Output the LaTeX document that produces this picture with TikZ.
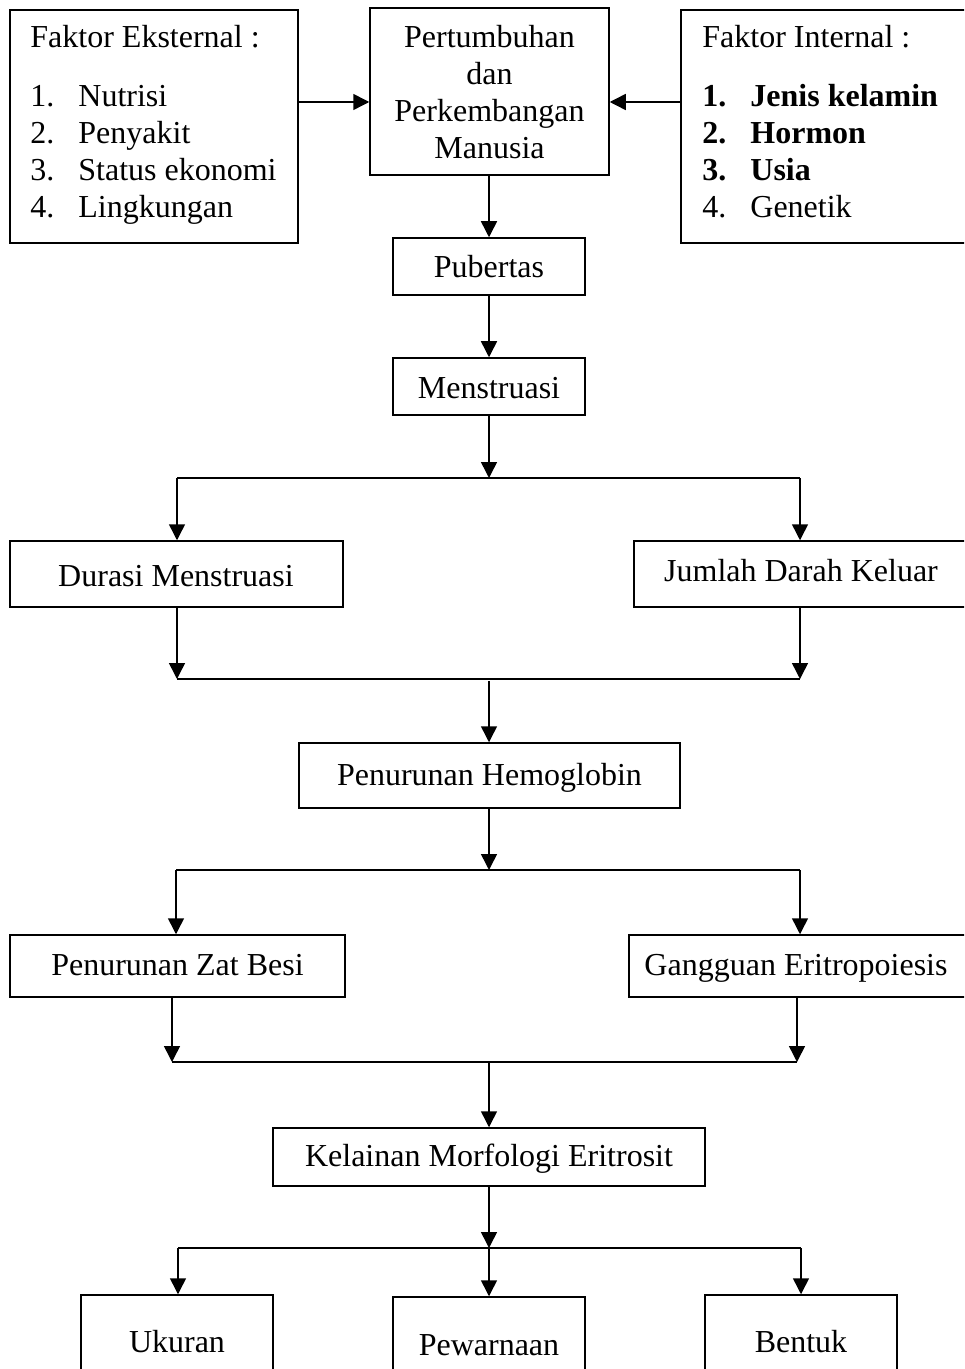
\documentclass[tikz,border=0pt]{standalone}
\usepackage{fontspec}
\setmainfont{Liberation Serif}
\usetikzlibrary{arrows.meta}
\begin{document}
\begin{tikzpicture}[x=0.5pt,y=-0.5pt,
  every node/.style={font=\fontsize{16}{18.5}\selectfont, inner sep=0pt},
  box/.style={draw=black, line width=0.75pt, rectangle},
  txt/.style={anchor=base west},
  ctxt/.style={anchor=base},
  conn/.style={line width=0.75pt},
  arr/.style={line width=0.75pt, -{Triangle[length=8pt,width=8pt]}}]
\useasboundingbox (0,0) rectangle (964,1369);
\clip (0,0) rectangle (964,1369);
\fill[white] (0,0) rectangle (964,1369);

% top row
\node[box, minimum width=144pt, minimum height=116.5pt] (ext) at (154,126.5) {};
\node[txt] (extt) at (30,48) {Faktor Eksternal :};
\node[txt] (ext1) at (30,107) {\makebox[24pt][l]{1.}Nutrisi};
\node[txt] (ext2) at (30,144) {\makebox[24pt][l]{2.}Penyakit};
\node[txt] (ext3) at (30,181) {\makebox[24pt][l]{3.}Status ekonomi};
\node[txt] (ext4) at (30,218) {\makebox[24pt][l]{4.}Lingkungan};

\node[box, minimum width=119.5pt, minimum height=83.5pt] (ctr) at (489.5,91.5) {};
\node[ctxt] (ctr1) at (489.5,48) {Pertumbuhan};
\node[ctxt] (ctr2) at (489.5,85) {dan};
\node[ctxt] (ctr3) at (489.5,122) {Perkembangan};
\node[ctxt] (ctr4) at (489.5,159) {Manusia};

\node[box, minimum width=147pt, minimum height=116.5pt] (int) at (828,126.5) {};
\node[txt] (intt) at (702,48) {Faktor Internal :};
\node[txt] (int1) at (702,107) {\bfseries\makebox[24pt][l]{1.}Jenis kelamin};
\node[txt] (int2) at (702,144) {\bfseries\makebox[24pt][l]{2.}Hormon};
\node[txt] (int3) at (702,181) {\bfseries\makebox[24pt][l]{3.}Usia};
\node[txt] (int4) at (702,218) {\makebox[24pt][l]{4.}Genetik};

% chain boxes
\node[box, minimum width=96pt, minimum height=28.5pt] (pub) at (489,266.5) {};
\node[ctxt] (pubt) at (489,278) {Pubertas};
\node[box, minimum width=96pt, minimum height=28.5pt] (men) at (489,386.5) {};
\node[ctxt] (ment) at (489,398) {Menstruasi};
\node[box, minimum width=166.5pt, minimum height=33pt] (dur) at (176.5,574) {};
\node[ctxt] (durt) at (176,586) {Durasi Menstruasi};
\node[box, minimum width=170.5pt, minimum height=33pt] (jum) at (804.5,574) {};
\node[ctxt] (jumt) at (801,581) {Jumlah Darah Keluar};
\node[box, minimum width=190.5pt, minimum height=32.5pt] (hem) at (489.5,775.5) {};
\node[ctxt] (hemt) at (489.5,785) {Penurunan Hemoglobin};
\node[box, minimum width=167.5pt, minimum height=31pt] (zat) at (177.5,966) {};
\node[ctxt] (zatt) at (177.5,975) {Penurunan Zat Besi};
\node[box, minimum width=173pt, minimum height=31pt] (gan) at (802,966) {};
\node[ctxt] (gant) at (796,975) {Gangguan Eritropoiesis};
\node[box, minimum width=216pt, minimum height=29pt] (kel) at (489,1157) {};
\node[ctxt] (kelt) at (489,1166) {Kelainan Morfologi Eritrosit};
\node[box, minimum width=96pt, minimum height=47.5pt] (uku) at (177,1342.5) {};
\node[ctxt] (ukut) at (177,1352) {Ukuran};
\node[box, minimum width=96pt, minimum height=46.5pt] (pew) at (489,1343.5) {};
\node[ctxt] (pewt) at (489,1355) {Pewarnaan};
\node[box, minimum width=96pt, minimum height=47.5pt] (ben) at (801,1342.5) {};
\node[ctxt] (bent) at (801,1352) {Bentuk};

% connectors top
\draw[arr] ([yshift=12.25pt]ext.east) -- ([yshift=12.25pt]ext.east -| ctr.west);
\draw[arr] ([yshift=12.25pt]int.west) -- ([yshift=12.25pt]int.west -| ctr.east);
\draw[arr] (pub.north |- ctr.south) -- (pub.north);
\draw[arr] (pub.south) -- (men.north);

% split 1
\coordinate (s1) at (489,478);
\coordinate (s1l) at (177,478);
\coordinate (s1r) at (800,478);
\draw[arr] (men.south) -- (s1);
\draw[conn] (s1l) -- (s1r);
\draw[arr] (s1l) -- (s1l |- dur.north);
\draw[arr] (s1r) -- (s1r |- jum.north);

% merge 1
\coordinate (m1l) at (177,679);
\coordinate (m1r) at (800,679);
\coordinate (m1s) at (489,681);
\draw[arr] (m1l |- dur.south) -- (m1l);
\draw[arr] (m1r |- jum.south) -- (m1r);
\draw[conn] (m1l) -- (m1r);
\draw[arr] (m1s) -- (m1s |- hem.north);

% split 2
\coordinate (s2) at (489,870);
\coordinate (s2l) at (176,870);
\coordinate (s2r) at (800,870);
\draw[arr] (s2 |- hem.south) -- (s2);
\draw[conn] (s2l) -- (s2r);
\draw[arr] (s2l) -- (s2l |- zat.north);
\draw[arr] (s2r) -- (s2r |- gan.north);

% merge 2
\coordinate (m2l) at (172,1062);
\coordinate (m2r) at (797,1062);
\draw[arr] (m2l |- zat.south) -- (m2l);
\draw[arr] (m2r |- gan.south) -- (m2r);
\draw[conn] (m2l) -- (m2r);
\draw[arr] (kel.north |- m2l) -- (kel.north);

% split 3
\coordinate (s3) at (489,1248);
\coordinate (s3l) at (178,1248);
\coordinate (s3r) at (801,1248);
\draw[arr] (kel.south) -- (s3);
\draw[conn] (s3l) -- (s3r);
\draw[arr] (s3l) -- (s3l |- uku.north);
\draw[arr] (s3) -- (s3 |- pew.north);
\draw[arr] (s3r) -- (s3r |- ben.north);
\end{tikzpicture}
\end{document}
